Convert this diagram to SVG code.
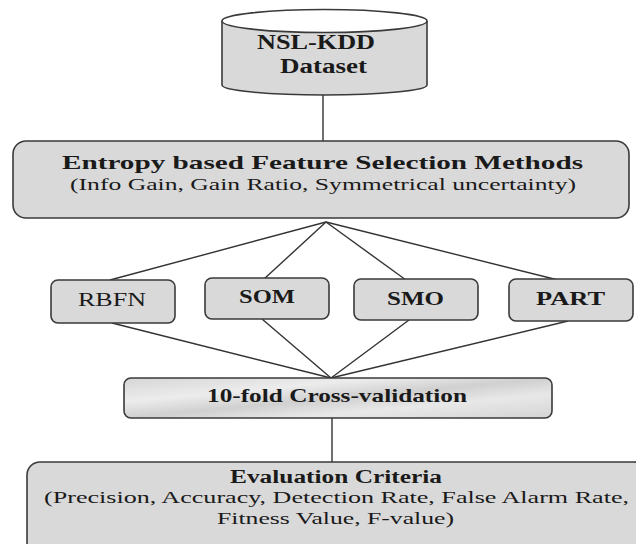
<svg xmlns="http://www.w3.org/2000/svg" width="636" height="544" viewBox="0 0 636 544">
<defs>
<linearGradient id="marble" x1="0" y1="0" x2="1" y2="1">
<stop offset="0" stop-color="#d6d6d6"/>
<stop offset="0.3" stop-color="#ececec"/>
<stop offset="0.5" stop-color="#d0d0d0"/>
<stop offset="0.7" stop-color="#e8e8e8"/>
<stop offset="1" stop-color="#d4d4d4"/>
</linearGradient>
</defs>
<style>
.box{fill:#d9d9d9;stroke:#3a3a3a;stroke-width:1.6}
.conn{stroke:#333;stroke-width:1.4;fill:none}
.b{font-family:"Liberation Serif","Times New Roman",serif;font-weight:bold;fill:#1a1a1a}
.r{font-family:"Liberation Serif","Times New Roman",serif;fill:#1a1a1a}
</style>
<rect width="636" height="544" fill="#fff"/>
<g id="connectors">
<line class="conn" x1="323" y1="95" x2="323" y2="141"/>
<line class="conn" x1="326" y1="222" x2="110" y2="280"/>
<line class="conn" x1="326" y1="222" x2="264" y2="279"/>
<line class="conn" x1="326" y1="222" x2="406" y2="280"/>
<line class="conn" x1="326" y1="222" x2="558" y2="280"/>
<line class="conn" x1="112" y1="323" x2="331" y2="378"/>
<line class="conn" x1="262" y1="319" x2="331" y2="378"/>
<line class="conn" x1="409" y1="320" x2="331" y2="378"/>
<line class="conn" x1="568" y1="321" x2="331" y2="378"/>
<line class="conn" x1="332" y1="418" x2="332" y2="462"/>
</g>
<g id="dataset">
<path class="box" d="M222,21 V85 A102.5,10 0 0 0 427,85 V21"/>
<ellipse cx="324.5" cy="21" rx="102.5" ry="11.5" fill="#fff" stroke="#3a3a3a" stroke-width="1.6"/>
<text class="b" x="257" y="49" font-size="20" textLength="118" lengthAdjust="spacingAndGlyphs">NSL-KDD</text>
<text class="b" x="280" y="73" font-size="20" textLength="87" lengthAdjust="spacingAndGlyphs">Dataset</text>
</g>
<g id="entropy">
<rect class="box" x="13" y="141" width="616" height="77" rx="13"/>
<text class="b" x="62" y="169" font-size="19.5" textLength="521" lengthAdjust="spacingAndGlyphs">Entropy based Feature Selection Methods</text>
<text class="r" x="70" y="190" font-size="16.5" textLength="506" lengthAdjust="spacingAndGlyphs">(Info Gain, Gain Ratio, Symmetrical uncertainty)</text>
</g>
<g id="rbfn">
<rect class="box" x="51" y="280" width="124" height="43" rx="7"/>
<text class="r" x="78" y="305.5" font-size="19.5" textLength="68" lengthAdjust="spacingAndGlyphs">RBFN</text>
</g>
<g id="som">
<rect class="box" x="205" y="278" width="124" height="41" rx="7"/>
<text class="b" x="239" y="303" font-size="19.5" textLength="56" lengthAdjust="spacingAndGlyphs">SOM</text>
</g>
<g id="smo">
<rect class="box" x="354" y="279" width="124" height="41" rx="7"/>
<text class="b" x="387" y="304.5" font-size="19.5" textLength="57" lengthAdjust="spacingAndGlyphs">SMO</text>
</g>
<g id="part">
<rect class="box" x="509" y="279" width="124" height="42" rx="7"/>
<text class="b" x="536" y="305" font-size="19.5" textLength="69" lengthAdjust="spacingAndGlyphs">PART</text>
</g>
<g id="crossval">
<rect x="124" y="378" width="428" height="40" rx="7" fill="url(#marble)" stroke="#3a3a3a" stroke-width="1.6"/>
<text class="b" x="207" y="402" font-size="19.5" textLength="260" lengthAdjust="spacingAndGlyphs">10-fold Cross-validation</text>
</g>
<g id="evaluation">
<rect class="box" x="27" y="462" width="620" height="100" rx="13"/>
<text class="b" x="230" y="483" font-size="18" textLength="212" lengthAdjust="spacingAndGlyphs">Evaluation Criteria</text>
<text class="r" x="44" y="503" font-size="17" textLength="585" lengthAdjust="spacingAndGlyphs">(Precision, Accuracy, Detection Rate, False Alarm Rate,</text>
<text class="r" x="217" y="524" font-size="17" textLength="237" lengthAdjust="spacingAndGlyphs">Fitness Value, F-value)</text>
</g>
</svg>
